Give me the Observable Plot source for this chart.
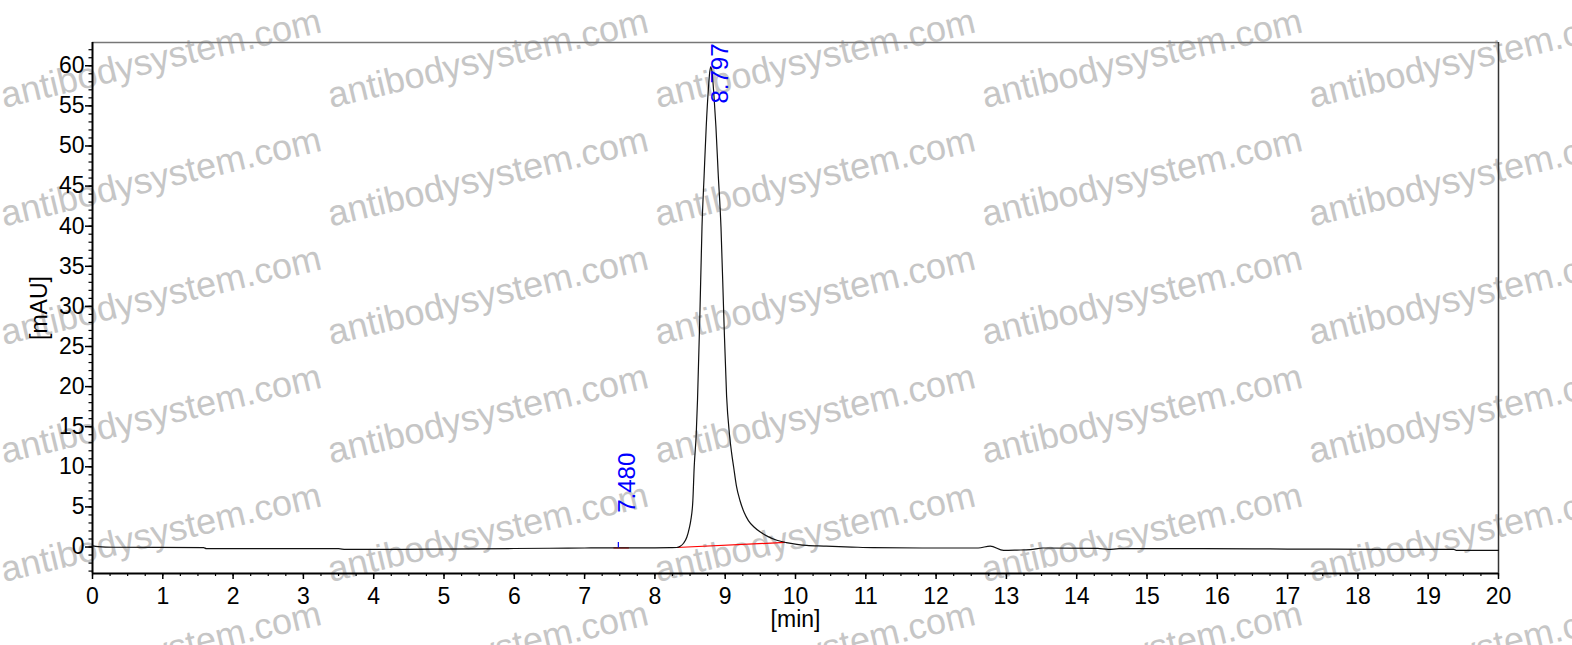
<!DOCTYPE html>
<html>
<head>
<meta charset="utf-8">
<script src="https://cdn.jsdelivr.net/npm/d3@7"></script>
<script src="https://cdn.jsdelivr.net/npm/@observablehq/plot@0.6"></script>
<style>
  html, body { margin: 0; padding: 0; background: #fff; }
  #wrap { position: relative; width: 1572px; height: 645px; overflow: hidden; background: #fff; }
  #wm, #chart { position: absolute; left: 0; top: 0; }
  #chart svg { background: transparent; }
</style>
</head>
<body>
<div id="wrap"><svg id="wm" width="1572" height="645"></svg><div id="chart"></div></div>
<script>
// ---- data ----
const times = [0, 0.08, 0.3, 1.58, 1.62, 3.5, 3.6, 4.4, 5.5, 6.5, 7.0, 7.48, 8.0, 8.22, 8.31, 8.36, 8.41, 8.455, 8.49, 8.51, 8.54, 8.559, 8.588, 8.606, 8.64, 8.67, 8.70, 8.73, 8.76, 8.78, 8.797, 8.815, 8.84, 8.868, 8.90, 8.94, 8.98, 9.02, 9.06, 9.09, 9.12, 9.16, 9.21, 9.27, 9.33, 9.41, 9.50, 9.61, 9.735, 9.87, 10.02, 10.16, 10.4, 10.8, 11.1, 11.8, 12.6, 12.77, 12.96, 13.15, 13.34, 13.52, 14.3, 14.45, 14.6, 15.8, 17.0, 18.3, 19.36, 19.4, 20];
const signal = [0.15, 0.05, -0.03, -0.08, -0.2, -0.2, -0.3, -0.28, -0.22, -0.15, -0.12, -0.1, -0.1, -0.08, -0.06, 0.09, 0.5, 1.25, 2.4, 3.3, 5.8, 9.98, 14.1, 18.3, 29.0, 39.9, 46.3, 52.4, 57.0, 59.2, 59.9, 59.0, 56.3, 52.4, 46.6, 39.9, 28.8, 18.8, 14.1, 11.8, 9.98, 7.6, 5.8, 4.3, 3.3, 2.5, 1.87, 1.3, 0.84, 0.55, 0.34, 0.2, 0.12, 0.0, -0.08, -0.12, -0.12, 0.12, -0.41, -0.38, -0.33, -0.12, -0.18, -0.3, -0.2, -0.2, -0.25, -0.28, -0.29, -0.41, -0.41];

const peakTimes   = [7.480, 8.797];
const peakLabels  = ["7.480", "8.797"];
const peakHeights = [-0.1, 59.9];

const baseStartT = [7.41, 8.31];
const baseStartV = [-0.11, -0.06];
const baseEndT   = [7.63, 9.85];
const baseEndV   = [-0.11, 0.57];

const xTicks = d3.range(0, 21, 1);
const xMinorTicks = d3.range(0, 81, 1).map(i => i / 4);
const yTicks = d3.range(0, 61, 5);
const yMinorTicks = d3.range(-3, 63, 1);
const xDomain = [0, 20];
const yDomain = [-3.3, 62.9];
const xLabel = "[min]";
const yLabel = "[mAU]";
const watermark = "antibodysystem.com";

// ---- build tables ----
const trace = times.map((t, i) => ({t, v: signal[i]}));
const peaks = peakTimes.map((t, i) => ({t, label: peakLabels[i], h: peakHeights[i]}));
const baselines = baseStartT.map((t, i) => ({x1: t, y1: baseStartV[i], x2: baseEndT[i], y2: baseEndV[i]}));

const font = "'Liberation Sans', Arial, Helvetica, sans-serif";

const chart = Plot.plot({
  width: 1572,
  height: 645,
  marginLeft: 92,
  marginRight: 74,
  marginTop: 42,
  marginBottom: 72,
  style: {background: "transparent", fontFamily: font, fontSize: "23px", color: "black"},
  x: {domain: xDomain},
  y: {domain: yDomain},
  marks: [
    Plot.axisY(yMinorTicks, {anchor: "left", tickSize: 3.5, tickFormat: () => "", label: null, strokeWidth: 1.2}),
    Plot.axisY(yTicks, {anchor: "left", tickSize: 7, tickPadding: 1, label: null, fontSize: 23, strokeWidth: 1.5}),
    Plot.axisX(xMinorTicks, {anchor: "bottom", tickSize: 3, tickFormat: () => "", label: null, strokeWidth: 1.2}),
    Plot.axisX(xTicks, {anchor: "bottom", tickSize: 6, tickPadding: 8, label: null, fontSize: 23, strokeWidth: 1.5}),
    Plot.ruleY([yDomain[1]], {stroke: "#777", strokeWidth: 1.6}),
    Plot.ruleX([xDomain[1]], {stroke: "#333", strokeWidth: 1.5}),
    Plot.ruleX([xDomain[0]], {stroke: "black", strokeWidth: 2}),
    Plot.ruleY([yDomain[0]], {stroke: "black", strokeWidth: 2.2}),
    Plot.link(baselines, {x1: "x1", y1: "y1", x2: "x2", y2: "y2", stroke: "#ff0000", strokeWidth: 1.2}),
    Plot.line(trace, {x: "t", y: "v", stroke: "#111", strokeWidth: 1.2, curve: "monotone-x"}),
    Plot.ruleX(peaks.filter(d => d.h < 30), {x: "t", y1: "h", y2: d => d.h + 0.65, stroke: "#0000ff", strokeWidth: 1.2}),
    Plot.text(peaks.filter(d => d.h < 30), {x: "t", y: "h", text: "label", rotate: -90, textAnchor: "start", lineAnchor: "top", dy: -35, fill: "#0000ff", fontSize: 24}),
    Plot.text(peaks.filter(d => d.h >= 30), {x: "t", text: "label", frameAnchor: "top", rotate: -90, textAnchor: "end", lineAnchor: "top", dy: 1, fill: "#0000ff", fontSize: 24}),
    Plot.text([xLabel], {frameAnchor: "bottom", textAnchor: "middle", lineAnchor: "middle", dy: 46, text: d => d, fontSize: 23, fill: "black"}),
    Plot.text([yLabel], {frameAnchor: "left", textAnchor: "middle", lineAnchor: "middle", dx: -53, rotate: -90, text: d => d, fontSize: 23, fill: "black"})
  ]
});
document.getElementById("chart").appendChild(chart);

// ---- watermark layer (behind the chart) ----
const wm = d3.select("#wm");
const cols = d3.range(0, 5).map(k => 4 + 327 * k);
const rows = d3.range(0, 6).map(j => 108 + 118.5 * j);
for (const x0 of cols) {
  for (const y0 of rows) {
    wm.append("text")
      .attr("x", x0).attr("y", y0)
      .attr("transform", `rotate(-13.4, ${x0}, ${y0})`)
      .attr("font-family", font)
      .attr("font-size", 36)
      .attr("fill", "#c6c6c6")
      .text(watermark);
  }
}
</script>
</body>
</html>
